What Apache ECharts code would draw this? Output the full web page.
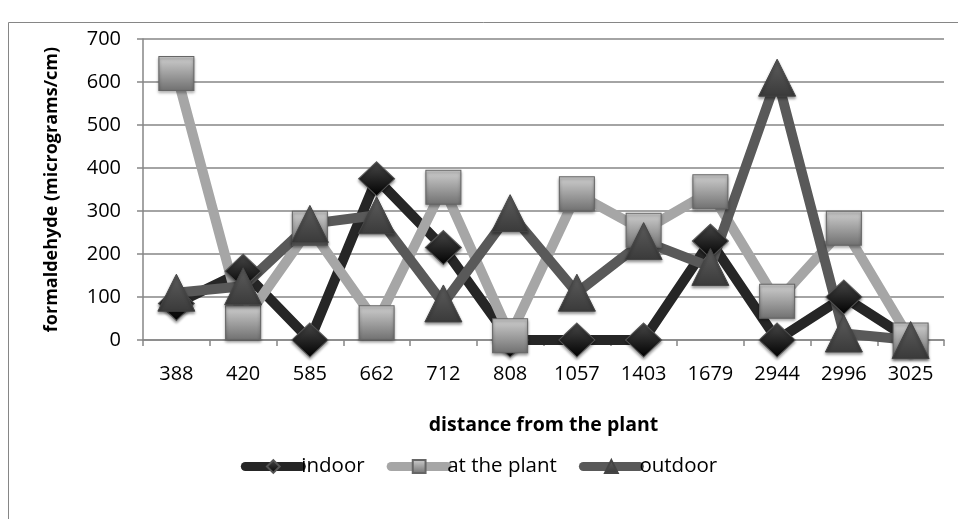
<!DOCTYPE html>
<html><head><meta charset="utf-8">
<script src="https://cdn.jsdelivr.net/npm/echarts@6/dist/echarts.min.js"></script>
<style>html,body{margin:0;padding:0;background:#fff}#c{width:958px;height:519px}</style>
</head><body><div id="c"></div>
<script>
const categories = ['388','420','585','662','712','808','1057','1403','1679','2944','2996','3025'];
const indoor = [85,160,0,375,215,0,0,0,230,0,100,0];
const atPlant = [620,40,260,40,355,10,340,255,345,90,260,0];
const outdoor = [110,125,270,290,85,295,110,230,170,610,15,0];
const yTicks = [0,100,200,300,400,500,600,700];

const FONT = 'Open Sans';
const chart = echarts.init(document.getElementById('c'));
function grad(a,b){return new echarts.graphic.LinearGradient(0,0,0,1,[{offset:0,color:a},{offset:1,color:b}]);}
chart.setOption({
  animation:false,
  graphic:[{type:'rect',shape:{x:8.5,y:22.5,width:1000,height:600},style:{fill:'none',stroke:'#868686',lineWidth:1}}],
  grid:{left:143,right:14,top:39,bottom:179},
  xAxis:{type:'category',data:categories,boundaryGap:true,
    name:'distance from the plant',nameLocation:'middle',nameGap:75,
    nameTextStyle:{fontFamily:FONT,fontWeight:'bold',fontSize:19.5,color:'#000'},
    axisLine:{lineStyle:{color:'#868686',width:1.5}},
    axisTick:{show:true,alignWithLabel:false,length:6,lineStyle:{color:'#868686',width:1.5}},
    axisLabel:{fontFamily:FONT,fontSize:20,color:'#000',margin:24},
    splitLine:{show:false}},
  yAxis:{type:'value',min:yTicks[0],max:yTicks[yTicks.length-1],interval:100,
    name:'formaldehyde (micrograms/cm)',nameLocation:'middle',nameGap:82,
    nameTextStyle:{fontFamily:FONT,fontWeight:'bold',fontSize:18,color:'#000'},
    axisLine:{show:true,lineStyle:{color:'#868686',width:1.5}},
    axisTick:{show:true,length:6,lineStyle:{color:'#868686',width:1.5}},
    axisLabel:{fontFamily:FONT,fontSize:20,color:'#000',margin:22},
    splitLine:{lineStyle:{color:'#868686',width:1.5}}},
  legend:{top:451,left:'center',itemWidth:56,itemHeight:16,itemGap:22,
    textStyle:{fontFamily:FONT,fontSize:20.5,color:'#000',padding:[0,0,0,-5]},
    lineStyle:{width:9,cap:'round'},
    data:['indoor','at the plant','outdoor']},
  series:[
    {name:'indoor',type:'line',data:indoor,symbol:'diamond',symbolSize:[36,34],showAllSymbol:true,
      lineStyle:{color:'#262626',width:10},itemStyle:{color:grad('#4a4a4a','#000'),borderColor:'#555',borderWidth:1,shadowColor:'rgba(0,0,0,0.4)',shadowBlur:3,shadowOffsetY:2}},
    {name:'at the plant',type:'line',data:atPlant,symbol:'rect',symbolSize:[35,34],showAllSymbol:true,
      lineStyle:{color:'#a6a6a6',width:10},itemStyle:{color:grad('#d0d0d0','#707070'),borderColor:'#666',borderWidth:1,shadowColor:'rgba(0,0,0,0.4)',shadowBlur:3,shadowOffsetY:2}},
    {name:'outdoor',type:'line',data:outdoor,symbol:'triangle',symbolSize:[37,37],showAllSymbol:true,
      lineStyle:{color:'#595959',width:10},itemStyle:{color:grad('#5e5e5e','#3a3a3a'),borderColor:'#444',borderWidth:1,shadowColor:'rgba(0,0,0,0.4)',shadowBlur:3,shadowOffsetY:2}}
  ]
});
</script></body></html>
